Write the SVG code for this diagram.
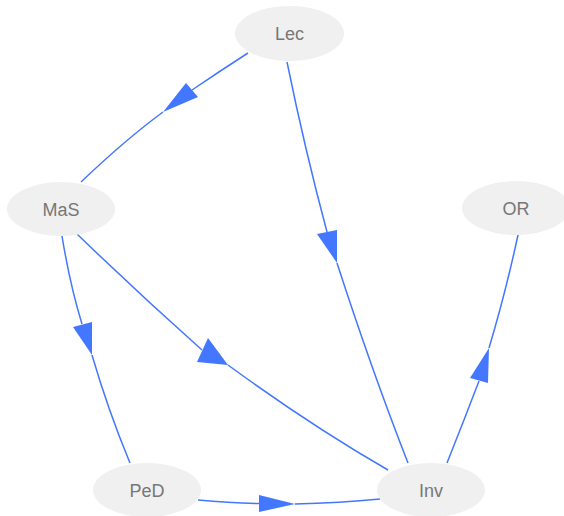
<svg xmlns="http://www.w3.org/2000/svg" width="564" height="516" viewBox="0 0 564 516">
<style>
.node ellipse{fill:#f0f0f0;stroke:none}
.node text{font-family:"Liberation Sans",Arial,sans-serif;font-size:18px;fill:#777777;text-anchor:middle}
.edges path{fill:none;stroke:#4477ff;stroke-width:1.5}
.edges polygon{fill:#4477ff;stroke:none}
</style>
<rect width="564" height="516" fill="#ffffff"/>
<g id="edges" class="edges">
<g id="e-Lec-MaS"><path d="M248,53 Q220,71 192,90"/><polygon points="186,83 198,97 163,112"/><path d="M163,112 Q125,140 81,182"/></g>
<g id="e-Lec-Inv"><path d="M287,62 Q305,150 327,232"/><polygon points="317,234 337,230 337,263"/><path d="M337,263 Q372,371 408,463"/></g>
<g id="e-MaS-PeD"><path d="M62,236 Q70,285 82,324"/><polygon points="73,327 92,322 92,355"/><path d="M92,355 Q108,410 130,463"/></g>
<g id="e-MaS-Inv"><path d="M77,234 Q138,293 202,350"/><polygon points="208,338 197,362 228,365"/><path d="M228,365 Q310,425 388,470"/></g>
<g id="e-PeD-Inv"><path d="M198,500 Q230,503 259,503.5"/><polygon points="259,495 259,512 295,504"/><path d="M295,504 Q340,503 380,499"/></g>
<g id="e-Inv-OR"><path d="M447,463 Q463,423 479,381"/><polygon points="470,378 488,383 489,348"/><path d="M489,348 Q505,295 518,235"/></g>
</g>
<g id="Lec" class="node"><ellipse cx="289.5" cy="33.5" rx="54.5" ry="27.5"/><text x="289.5" y="40">Lec</text></g>
<g id="MaS" class="node"><ellipse cx="61" cy="209" rx="54" ry="27"/><text x="61" y="215.5">MaS</text></g>
<g id="OR" class="node"><ellipse cx="516" cy="208" rx="54" ry="27"/><text x="516" y="214.5">OR</text></g>
<g id="PeD" class="node"><ellipse cx="147" cy="490" rx="54" ry="27"/><text x="147" y="496.5">PeD</text></g>
<g id="Inv" class="node"><ellipse cx="431" cy="490" rx="54" ry="27"/><text x="431" y="496.5">Inv</text></g>
</svg>
